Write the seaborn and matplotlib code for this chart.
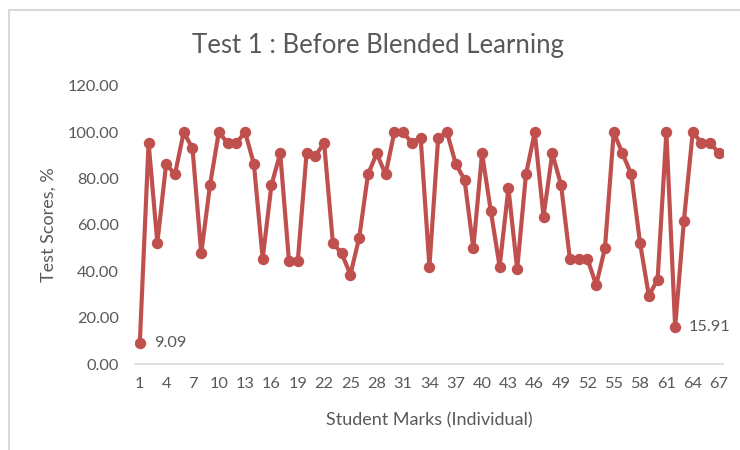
import matplotlib
matplotlib.use("Agg")
import matplotlib.pyplot as plt
import seaborn as sns
import pandas as pd
from matplotlib.patches import Rectangle

students = list(range(1, 68))
scores = [9.09, 95.45, 52.27, 86.36, 81.82, 100.00, 93.18, 47.73, 77.27, 100.00,
          95.45, 95.45, 100.00, 86.36, 45.45, 77.27, 90.91, 44.32, 44.32, 90.91,
          89.77, 95.45, 52.27, 47.73, 38.64, 54.55, 81.82, 90.91, 81.82, 100.00,
          100.00, 95.45, 97.73, 42.05, 97.73, 100.00, 86.36, 79.55, 50.00, 90.91,
          65.91, 42.05, 75.91, 40.91, 81.82, 100.00, 63.64, 90.91, 77.27, 45.45,
          45.45, 45.45, 34.09, 50.00, 100.00, 90.91, 81.82, 52.27, 29.55, 36.36,
          100.00, 15.91, 61.93, 100.00, 95.45, 95.45, 90.91]
labelled = {1: "9.09", 62: "15.91"}
title = "Test 1 : Before Blended Learning"
xlabel = "Student Marks (Individual)"
ylabel = "Test Scores, %"

df = pd.DataFrame({"student": students, "score": scores})

sns.set_theme(style="white")
plt.rcParams["font.family"] = ["Lato", "DejaVu Sans"]

fig = plt.figure(figsize=(7.4, 4.5), dpi=100)
ax = fig.add_axes([0.183, 0.191, 0.7946, 0.618])

red = "#C0504D"
grey = "#595959"
sns.lineplot(data=df, x="student", y="score", ax=ax, color=red, linewidth=3.0,
             marker="o", markersize=8.2, markeredgewidth=0, markerfacecolor=red)

ax.set_xlim(0.5, 67.5)
ax.set_ylim(0, 120)
ax.set_yticks(range(0, 121, 20))
ax.set_yticklabels([f"{v:.2f}" for v in range(0, 121, 20)], color=grey, fontsize=11.8)
ax.set_xticks(students[::3])
ax.set_xticklabels([str(s) for s in students[::3]], color=grey, fontsize=11.8)
ax.set_xticks([s + 0.5 for s in range(0, 67)], minor=True)
ax.tick_params(axis="x", which="major", length=0, pad=9)
ax.tick_params(axis="x", which="minor", length=5, color="#D9D9D9", width=1, direction="out")
ax.tick_params(axis="y", length=0, pad=12)

for s in ["top", "right", "left"]:
    ax.spines[s].set_visible(False)
ax.spines["bottom"].set_color("#D9D9D9")
ax.spines["bottom"].set_linewidth(1.2)

ax.set_xlabel(xlabel, color=grey, fontsize=13, labelpad=16)
ax.set_ylabel(ylabel, color=grey, fontsize=13, labelpad=8)
fig.text(0.511, 0.898, title, ha="center", va="center", color=grey, fontsize=18.5)

for idx, txt in labelled.items():
    ax.annotate(txt, (idx, scores[idx - 1]), xytext=(10, 0), textcoords="offset points",
                va="center", ha="left", color=grey, fontsize=11.8)

fig.patches.append(Rectangle((9 / 740, -0.1), 2.0, (440 / 450) + 0.1, transform=fig.transFigure,
                             fill=False, edgecolor="#D9D9D9", linewidth=1.5))

fig.savefig("out.png", dpi=100)
